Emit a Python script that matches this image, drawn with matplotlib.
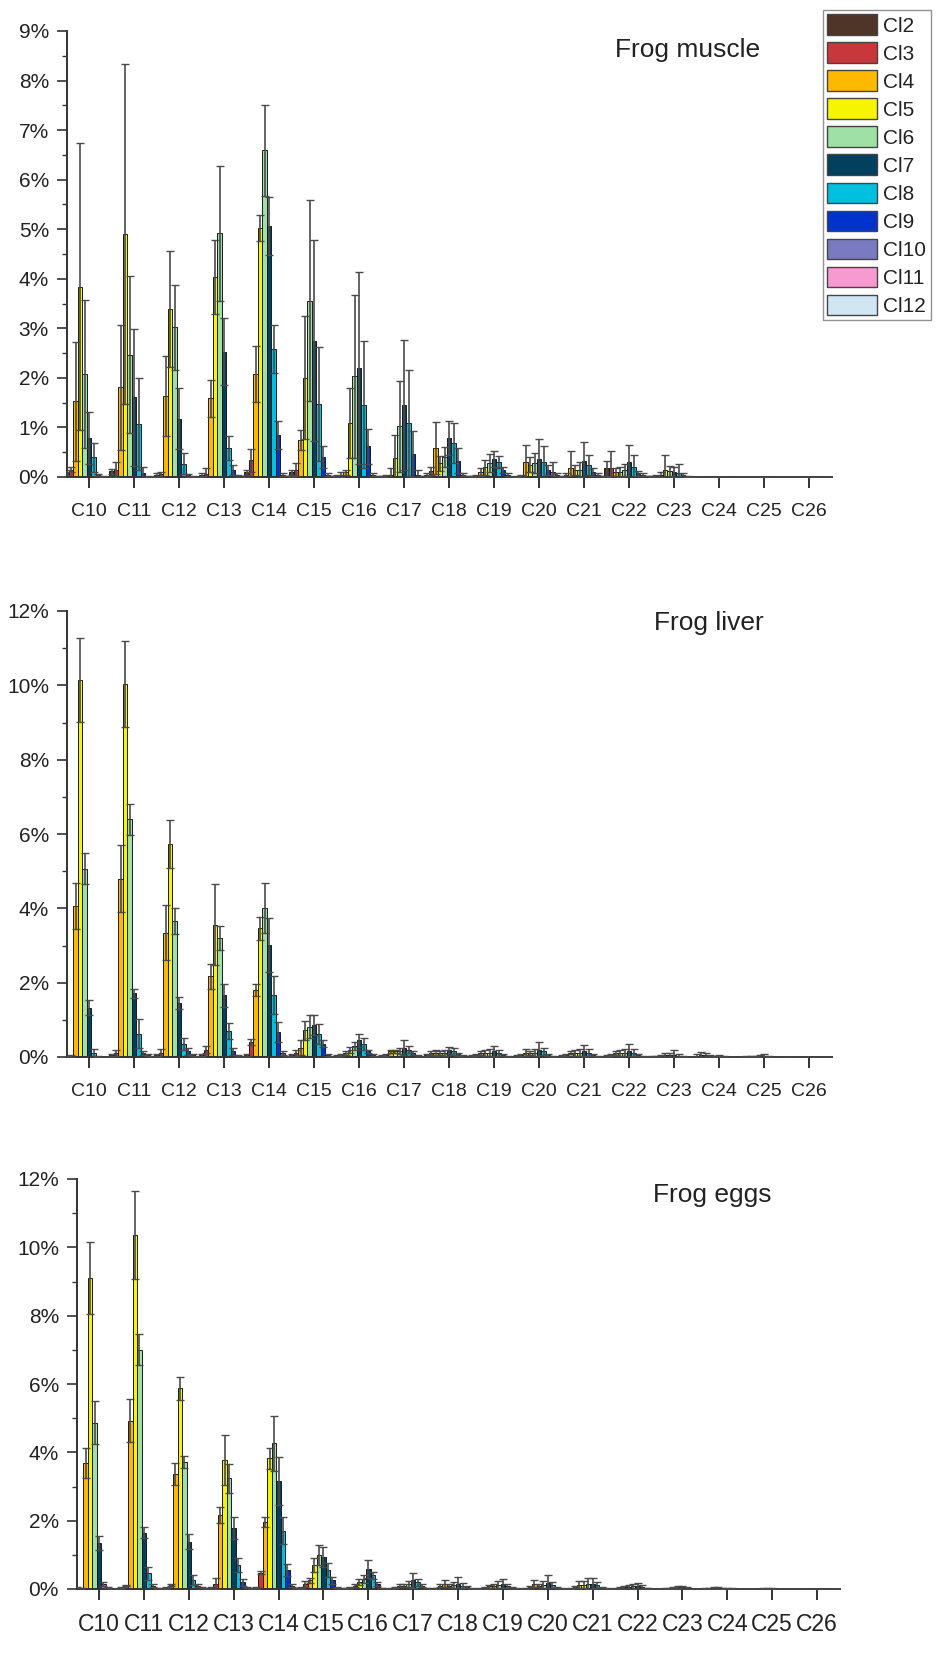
import matplotlib
matplotlib.use("Agg")
import matplotlib.pyplot as plt
import numpy as np
from matplotlib.patches import Patch
from matplotlib.ticker import MultipleLocator

plt.rcParams["font.family"] = ["Liberation Sans", "DejaVu Sans"]

# ===========================
# Data (percent), rows = carbon chain, columns = chlorine number
# ===========================
chains = [f"C{n}" for n in range(10, 27)]
series = [f"Cl{n}" for n in range(2, 13)]
colors = ["#4f3428", "#c8373a", "#ffb800", "#f5f500", "#9ee0a5", "#03405f",
          "#00bfdf", "#0033cc", "#7a7ac0", "#f79ad0", "#d0e6f2"]

muscle_mean = [
    [0.10, 0.15, 1.53, 3.84, 2.08, 0.79, 0.40, 0.05, 0.02, 0.01, 0.01],
    [0.12, 0.15, 1.81, 4.90, 2.47, 1.61, 1.07, 0.08, 0.02, 0.01, 0.01],
    [0.05, 0.06, 1.64, 3.39, 3.02, 1.18, 0.27, 0.04, 0.02, 0.01, 0.01],
    [0.05, 0.07, 1.59, 4.03, 4.92, 2.53, 0.58, 0.15, 0.03, 0.01, 0.01],
    [0.10, 0.34, 2.08, 5.03, 6.59, 5.07, 2.58, 0.85, 0.05, 0.02, 0.01],
    [0.10, 0.15, 0.75, 2.00, 3.56, 2.75, 1.48, 0.40, 0.05, 0.02, 0.01],
    [0.03, 0.05, 0.10, 1.09, 2.03, 2.20, 1.46, 0.62, 0.05, 0.02, 0.01],
    [0.02, 0.03, 0.05, 0.38, 1.02, 1.46, 1.09, 0.47, 0.05, 0.02, 0.01],
    [0.05, 0.12, 0.58, 0.28, 0.40, 0.79, 0.69, 0.33, 0.05, 0.02, 0.01],
    [0.02, 0.03, 0.10, 0.20, 0.28, 0.36, 0.30, 0.15, 0.05, 0.01, 0.01],
    [0.02, 0.03, 0.30, 0.25, 0.28, 0.36, 0.30, 0.15, 0.10, 0.05, 0.01],
    [0.02, 0.05, 0.18, 0.15, 0.15, 0.32, 0.25, 0.10, 0.05, 0.02, 0.01],
    [0.18, 0.18, 0.10, 0.10, 0.15, 0.30, 0.20, 0.08, 0.05, 0.02, 0.01],
    [0.02, 0.03, 0.05, 0.15, 0.12, 0.10, 0.08, 0.05, 0.02, 0.01, 0.00],
    [0.00] * 11,
    [0.00] * 11,
    [0.00] * 11,
]
muscle_err = [
    [0.05, 0.05, 1.20, 2.90, 1.50, 0.53, 0.29, 0.02, 0.01, 0, 0],
    [0.05, 0.15, 1.26, 3.43, 1.58, 1.38, 0.93, 0.12, 0.01, 0, 0],
    [0.03, 0.05, 0.81, 1.18, 0.86, 0.61, 0.21, 0.03, 0.01, 0, 0],
    [0.03, 0.11, 0.37, 0.75, 1.36, 0.67, 0.24, 0.10, 0.02, 0, 0],
    [0.05, 0.23, 0.57, 0.26, 0.92, 0.59, 0.49, 0.29, 0.03, 0, 0],
    [0.05, 0.13, 0.20, 1.24, 2.03, 2.03, 1.15, 0.22, 0.03, 0, 0],
    [0.02, 0.05, 0.05, 0.70, 1.65, 1.93, 1.28, 0.35, 0.03, 0, 0],
    [0.01, 0.02, 0.13, 0.47, 0.91, 1.31, 1.07, 0.46, 0.10, 0, 0],
    [0.03, 0.08, 0.52, 0.15, 0.20, 0.35, 0.40, 0.25, 0.03, 0, 0],
    [0.01, 0.02, 0.08, 0.15, 0.18, 0.16, 0.12, 0.06, 0.03, 0, 0],
    [0.01, 0.02, 0.35, 0.15, 0.20, 0.41, 0.32, 0.10, 0.20, 0.03, 0],
    [0.01, 0.03, 0.34, 0.10, 0.15, 0.38, 0.20, 0.08, 0.03, 0, 0],
    [0.15, 0.34, 0.08, 0.10, 0.12, 0.35, 0.25, 0.05, 0.03, 0, 0],
    [0.01, 0.02, 0.05, 0.30, 0.10, 0.10, 0.19, 0.03, 0.01, 0, 0],
    [0] * 11,
    [0] * 11,
    [0] * 11,
]

liver_mean = [
    [0.02, 0.03, 4.07, 10.14, 5.07, 1.33, 0.10, 0.02, 0.01, 0.01, 0.00],
    [0.05, 0.10, 4.80, 10.04, 6.40, 1.72, 0.63, 0.10, 0.05, 0.01, 0.00],
    [0.05, 0.10, 3.34, 5.74, 3.66, 1.45, 0.36, 0.15, 0.05, 0.01, 0.00],
    [0.05, 0.20, 2.17, 3.56, 3.20, 1.66, 0.70, 0.15, 0.03, 0.01, 0.00],
    [0.05, 0.40, 1.80, 3.46, 4.00, 3.01, 1.66, 0.67, 0.10, 0.02, 0.00],
    [0.05, 0.12, 0.25, 0.72, 0.81, 0.85, 0.63, 0.36, 0.05, 0.01, 0.00],
    [0.03, 0.05, 0.10, 0.20, 0.30, 0.45, 0.35, 0.15, 0.05, 0.01, 0.00],
    [0.03, 0.05, 0.15, 0.15, 0.15, 0.25, 0.20, 0.10, 0.03, 0.01, 0.00],
    [0.05, 0.10, 0.12, 0.10, 0.12, 0.18, 0.15, 0.08, 0.03, 0.01, 0.00],
    [0.03, 0.05, 0.10, 0.12, 0.12, 0.15, 0.12, 0.06, 0.02, 0.01, 0.00],
    [0.03, 0.05, 0.12, 0.10, 0.12, 0.18, 0.15, 0.06, 0.02, 0.01, 0.00],
    [0.03, 0.05, 0.12, 0.10, 0.12, 0.15, 0.12, 0.05, 0.02, 0.01, 0.00],
    [0.03, 0.05, 0.10, 0.10, 0.12, 0.15, 0.12, 0.05, 0.02, 0.01, 0.00],
    [0.01, 0.02, 0.03, 0.05, 0.05, 0.06, 0.04, 0.02, 0.01, 0.00, 0.00],
    [0.03, 0.05, 0.05, 0.03, 0.02, 0.03, 0.02, 0.01, 0.00, 0.00, 0.00],
    [0.00, 0.01, 0.01, 0.02, 0.02, 0.03, 0.02, 0.01, 0.00, 0.00, 0.00],
    [0.00] * 11,
]
liver_err = [
    [0.01, 0.02, 0.62, 1.13, 0.41, 0.21, 0.12, 0.01, 0, 0, 0],
    [0.03, 0.08, 0.90, 1.15, 0.42, 0.12, 0.40, 0.05, 0.02, 0, 0],
    [0.03, 0.12, 0.74, 0.65, 0.35, 0.17, 0.16, 0.10, 0.02, 0, 0],
    [0.03, 0.09, 0.34, 1.09, 0.32, 0.31, 0.22, 0.10, 0.02, 0, 0],
    [0.03, 0.09, 0.16, 0.30, 0.67, 0.73, 0.51, 0.27, 0.05, 0, 0],
    [0.03, 0.08, 0.20, 0.25, 0.31, 0.27, 0.27, 0.10, 0.03, 0, 0],
    [0.02, 0.03, 0.05, 0.08, 0.10, 0.18, 0.15, 0.05, 0.02, 0, 0],
    [0.02, 0.03, 0.05, 0.05, 0.08, 0.20, 0.10, 0.05, 0.02, 0, 0],
    [0.02, 0.05, 0.08, 0.05, 0.08, 0.10, 0.10, 0.04, 0.02, 0, 0],
    [0.02, 0.03, 0.05, 0.08, 0.10, 0.14, 0.08, 0.03, 0.01, 0, 0],
    [0.02, 0.03, 0.10, 0.05, 0.10, 0.22, 0.10, 0.03, 0.01, 0, 0],
    [0.02, 0.03, 0.05, 0.08, 0.10, 0.16, 0.10, 0.03, 0.01, 0, 0],
    [0.02, 0.03, 0.05, 0.08, 0.10, 0.21, 0.10, 0.03, 0.01, 0, 0],
    [0.01, 0.01, 0.02, 0.05, 0.06, 0.12, 0.03, 0.01, 0, 0, 0],
    [0.05, 0.08, 0.05, 0.02, 0.01, 0.02, 0.01, 0, 0, 0, 0],
    [0, 0.01, 0.01, 0.02, 0.03, 0.06, 0.02, 0, 0, 0, 0],
    [0] * 11,
]

eggs_mean = [
    [0.05, 0.03, 3.68, 9.11, 4.87, 1.34, 0.15, 0.05, 0.01, 0.01, 0.00],
    [0.05, 0.10, 4.93, 10.36, 7.00, 1.65, 0.46, 0.10, 0.03, 0.01, 0.00],
    [0.05, 0.12, 3.37, 5.87, 3.71, 1.39, 0.26, 0.10, 0.05, 0.01, 0.00],
    [0.03, 0.15, 2.17, 3.78, 3.24, 1.78, 0.70, 0.20, 0.05, 0.01, 0.00],
    [0.05, 0.48, 1.97, 3.82, 4.26, 3.17, 1.71, 0.56, 0.10, 0.02, 0.00],
    [0.05, 0.15, 0.25, 0.70, 0.99, 0.93, 0.56, 0.25, 0.05, 0.01, 0.00],
    [0.03, 0.05, 0.10, 0.20, 0.30, 0.58, 0.40, 0.15, 0.03, 0.01, 0.00],
    [0.02, 0.05, 0.10, 0.10, 0.15, 0.25, 0.20, 0.10, 0.03, 0.01, 0.00],
    [0.03, 0.10, 0.15, 0.10, 0.12, 0.15, 0.10, 0.05, 0.02, 0.01, 0.00],
    [0.02, 0.03, 0.08, 0.10, 0.12, 0.15, 0.10, 0.05, 0.02, 0.01, 0.00],
    [0.02, 0.05, 0.15, 0.10, 0.12, 0.18, 0.12, 0.05, 0.02, 0.01, 0.00],
    [0.02, 0.05, 0.12, 0.12, 0.15, 0.15, 0.12, 0.05, 0.02, 0.01, 0.00],
    [0.01, 0.03, 0.05, 0.06, 0.08, 0.08, 0.06, 0.03, 0.01, 0.00, 0.00],
    [0.01, 0.01, 0.02, 0.03, 0.05, 0.05, 0.03, 0.01, 0.00, 0.00, 0.00],
    [0.01, 0.02, 0.03, 0.03, 0.02, 0.02, 0.01, 0.00, 0.00, 0.00, 0.00],
    [0.00, 0.00, 0.01, 0.01, 0.01, 0.02, 0.01, 0.00, 0.00, 0.00, 0.00],
    [0.00] * 11,
]
eggs_err = [
    [0.01, 0.01, 0.44, 1.06, 0.63, 0.21, 0.05, 0.02, 0, 0, 0],
    [0.02, 0.02, 0.62, 1.29, 0.45, 0.17, 0.19, 0.05, 0.01, 0, 0],
    [0.02, 0.03, 0.33, 0.34, 0.18, 0.21, 0.15, 0.05, 0.02, 0, 0],
    [0.02, 0.16, 0.24, 0.73, 0.42, 0.32, 0.20, 0.10, 0.02, 0, 0],
    [0.02, 0.05, 0.15, 0.30, 0.80, 0.70, 0.39, 0.17, 0.05, 0, 0],
    [0.02, 0.08, 0.06, 0.20, 0.30, 0.29, 0.20, 0.10, 0.02, 0, 0],
    [0.01, 0.02, 0.05, 0.08, 0.12, 0.27, 0.10, 0.05, 0.01, 0, 0],
    [0.01, 0.02, 0.05, 0.05, 0.08, 0.23, 0.10, 0.05, 0.01, 0, 0],
    [0.01, 0.05, 0.10, 0.05, 0.08, 0.21, 0.08, 0.03, 0.01, 0, 0],
    [0.01, 0.02, 0.05, 0.06, 0.10, 0.13, 0.06, 0.02, 0.01, 0, 0],
    [0.01, 0.03, 0.10, 0.05, 0.10, 0.23, 0.08, 0.02, 0.01, 0, 0],
    [0.01, 0.03, 0.10, 0.10, 0.16, 0.16, 0.08, 0.02, 0.01, 0, 0],
    [0.01, 0.02, 0.05, 0.05, 0.08, 0.10, 0.05, 0.01, 0, 0, 0],
    [0, 0.01, 0.02, 0.03, 0.03, 0.05, 0.02, 0, 0, 0, 0],
    [0.01, 0.01, 0.02, 0.02, 0.01, 0.01, 0.01, 0, 0, 0, 0],
    [0, 0, 0, 0.01, 0.01, 0.01, 0, 0, 0, 0, 0],
    [0] * 11,
]

TEXT = "#222222"


def _draw_panel(ax, mean, err, ymax, ystep, title, title_xy, fig):
    mean = np.array(mean)
    err = np.array(err)
    x = np.arange(len(chains))
    bar_w = 0.1
    for j in range(len(series)):
        pos = x + (j - 5) * bar_w
        ax.bar(pos, mean[:, j], width=bar_w, color=colors[j],
               edgecolor="#1a1a1a", linewidth=0.7, zorder=2)
        ax.errorbar(pos, mean[:, j], yerr=err[:, j], fmt="none",
                    ecolor="#4a4a4a", elinewidth=1.2, capsize=3,
                    capthick=1.0, zorder=3)

    ax.set_xlim(-0.49, len(chains) - 1 + 0.51)
    ax.set_ylim(0, ymax)
    ax.set_xticks(x)
    ax.set_xticklabels(chains)
    yt = np.arange(0, ymax + 0.01, ystep)
    ax.set_yticks(yt)
    ax.set_yticklabels([f"{v:g}%" for v in yt])
    ax.yaxis.set_minor_locator(MultipleLocator(ystep / 2))

    for s in ("top", "right"):
        ax.spines[s].set_visible(False)
    for s in ("left", "bottom"):
        ax.spines[s].set_linewidth(1.4)
        ax.spines[s].set_color("#333333")
    ax.tick_params(axis="x", which="major", direction="out", length=8,
                   width=1.4, pad=10.5, labelsize=14, colors="#333333",
                   labelcolor=TEXT)
    ax.tick_params(axis="y", which="major", direction="out", length=7,
                   width=1.2, pad=6, labelsize=15, colors="#333333",
                   labelcolor=TEXT)
    ax.tick_params(axis="y", which="minor", direction="out", length=3.6,
                   width=1.0, colors="#333333")

    fig.text(title_xy[0], title_xy[1], title, ha="center", va="center",
             fontsize=19, color=TEXT)


fig = plt.figure(figsize=(9.36, 16.79), dpi=100)
W, H = 936, 1679


def _axes_px(left, right, top, bottom):
    return fig.add_axes([left / W, 1 - bottom / H,
                         (right - left) / W, (bottom - top) / H])


ax1 = _axes_px(67, 832, 31, 477)
ax2 = _axes_px(67, 832, 611, 1057)
ax3 = _axes_px(77, 840, 1179, 1589)

_draw_panel(ax1, muscle_mean, muscle_err, 9, 1, "Frog muscle",
            (688 / W, 1 - 50 / H), fig)
_draw_panel(ax2, liver_mean, liver_err, 12, 2, "Frog liver",
            (709 / W, 1 - 623 / H), fig)
_draw_panel(ax3, eggs_mean, eggs_err, 12, 2, "Frog eggs",
            (712 / W, 1 - 1195 / H), fig)
ax3.tick_params(axis="x", labelsize=16.5, pad=9)

handles = [Patch(facecolor=c, edgecolor="#444444", linewidth=1.0, label=s)
           for c, s in zip(colors, series)]
leg = fig.legend(handles=handles, loc="upper left",
                 bbox_to_anchor=(823 / W, 1 - 10 / H), frameon=True,
                 fancybox=False, fontsize=15, handlelength=2.4,
                 handleheight=1.15, handletextpad=0.3, labelspacing=0.32,
                 borderpad=0.2, borderaxespad=0)
leg.get_frame().set_edgecolor("#777777")
leg.get_frame().set_linewidth(1.0)
for t in leg.get_texts():
    t.set_color(TEXT)

fig.savefig("out.png", dpi=100)
